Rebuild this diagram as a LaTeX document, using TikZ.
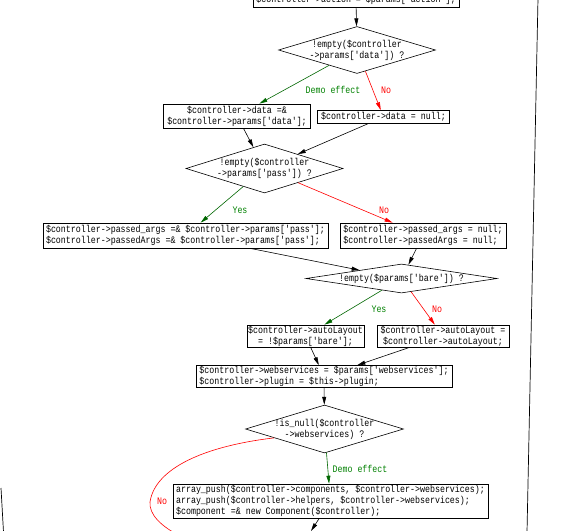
\documentclass[tikz,border=0pt]{standalone}
\usepackage{fontspec}
\setmonofont[FakeStretch=0.83]{Liberation Mono}
\usetikzlibrary{shapes.geometric,arrows.meta}
\begin{document}
\begin{tikzpicture}[x=1pt,y=-1pt,
  font=\ttfamily\fontsize{10}{11}\selectfont,
  box/.style={draw, line width=0.7pt, inner sep=0pt},
  dec/.style={diamond, draw, line width=0.6pt, inner sep=-6pt, align=center},
  flow/.style={draw=black, line width=0.6pt, -{Triangle[length=8pt,width=4pt]}},
  yes/.style={flow, draw=green!40!black},
  no/.style={flow, draw=red},
  noline/.style={draw=red, line width=0.6pt},
  glab/.style={text=green!50!black, inner sep=1pt},
  rlab/.style={text=red, inner sep=1pt},
  frame/.style={draw=black, line width=0.7pt}]
\useasboundingbox (0,0) rectangle (577,530);

% frame lines
\coordinate (rt) at (538,-2);
\coordinate (rb) at (527,532);
\coordinate (lt) at (1,488);
\coordinate (lb) at (3.5,532);
\draw[frame] (rt) -- (rb);
\draw[frame] (lt) -- (lb);

% nodes
\node[box, minimum width=206pt, minimum height=14pt] (act) at (356,0) {\$controller->action = \$params['action'];};
\node[dec, shape aspect=3.34, minimum width=157pt, minimum height=47pt] (d1) at (357,50) {!empty(\$controller\\->params['data']) ?};
\node[box, minimum width=147pt, minimum height=24pt, align=center] (a) at (237,116) {\$controller->data =\&\\\$controller->params['data'];};
\node[box, minimum width=132pt, minimum height=13pt] (b) at (383.5,117) {\$controller->data = null;};
\node[dec, shape aspect=3.2, minimum width=157pt, minimum height=49pt] (d2) at (264.5,168.5) {!empty(\$controller\\->params['pass']) ?};
\node[box, minimum width=285pt, minimum height=25pt, align=left] (c) at (185.5,235.5) {\$controller->passed\_args =\& \$controller->params['pass'];\\\$controller->passedArgs =\& \$controller->params['pass'];};
\node[box, minimum width=166pt, minimum height=25pt, align=left] (d) at (423,235.5) {\$controller->passed\_args = null;\\\$controller->passedArgs = null;};
\node[dec, shape aspect=6.59, minimum width=191pt, minimum height=29pt] (d3) at (401.5,278.5) {!empty(\$params['bare']) ?};
\node[box, minimum width=117pt, minimum height=22pt, align=center] (e) at (305.5,336) {\$controller->autoLayout\\= !\$params['bare'];};
\node[box, minimum width=132pt, minimum height=22pt, align=center] (f) at (443,336) {\$controller->autoLayout =\\\$controller->autoLayout;};
\node[box, minimum width=256pt, minimum height=22pt, align=left] (g) at (324,376.5) {\$controller->webservices = \$params['webservices'];\\\$controller->plugin = \$this->plugin;};
\node[dec, shape aspect=3.29, minimum width=158pt, minimum height=48pt] (d4) at (324.5,429) {!is\_null(\$controller\\->webservices) ?};
\node[box, minimum width=315pt, minimum height=34pt, align=left] (h) at (330.5,501) {array\_push(\$controller->components, \$controller->webservices);\\array\_push(\$controller->helpers, \$controller->webservices);\\\$component =\& new Component(\$controller);};
\coordinate (hout) at (311,531);
\coordinate (nout) at (182,537);

% connectors
\draw[flow] (act) -- (d1);
\draw[yes] (d1) -- (a);
\draw[no] (d1) -- (b);
\draw[flow] (a) -- (d2);
\draw[flow] (b) -- (d2);
\draw[yes] (d2) -- (c);
\draw[no] (d2) -- (d);
\draw[flow] (c) -- (d3);
\draw[flow] (d) -- (d3);
\draw[yes] (d3) -- (e);
\draw[no] (d3) -- (f);
\draw[flow] (e) -- (g);
\draw[flow] (f) -- (g);
\draw[flow] (g) -- (d4);
\draw[yes] (d4) -- (h);
\draw[flow] (h) -- (hout);
\draw[noline] (d4.190) .. controls (205,446) and (155,468) .. (150,502) .. controls (149,514) and (160,526) .. (nout);

% labels
\node[glab] (l1) at (333,90) {Demo effect};
\node[rlab] (l2) at (386,90) {No};
\node[glab] (l3) at (240,210) {Yes};
\node[rlab] (l4) at (384,210) {No};
\node[glab] (l5) at (379,309) {Yes};
\node[rlab] (l6) at (437,309) {No};
\node[glab] (l7) at (360,469) {Demo effect};
\node[rlab] (l8) at (162,501) {No};
\end{tikzpicture}
\end{document}
